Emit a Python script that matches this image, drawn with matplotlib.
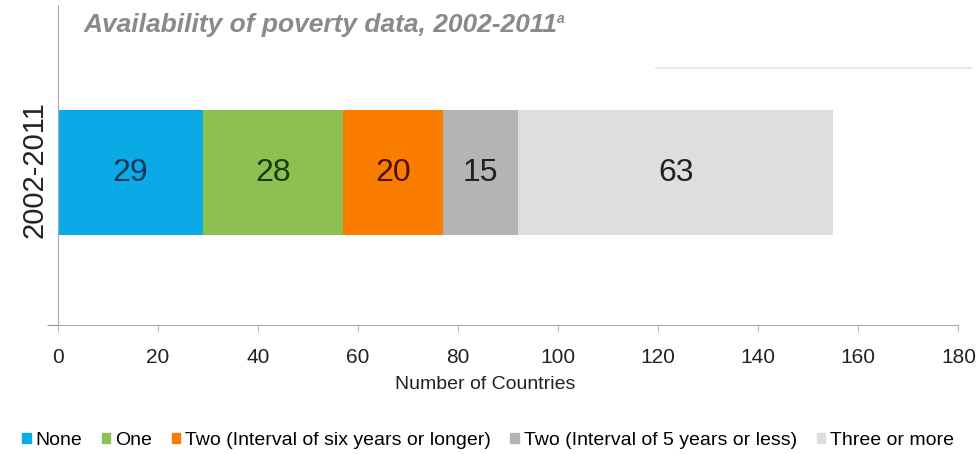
import matplotlib
matplotlib.use("Agg")
import matplotlib.pyplot as plt
from matplotlib import font_manager

# data
period = "2002-2011"
categories = ["None", "One", "Two (Interval of six years or longer)",
              "Two (Interval of 5 years or less)", "Three or more"]
counts = [29, 28, 20, 15, 63]
colors = ["#0aaae6", "#8cc152", "#fa7d00", "#b4b4b4", "#dedede"]
text_colors = ["#14365a", "#1c3a10", "#4a1200", "#222222", "#222222"]
xticks = [0, 20, 40, 60, 80, 100, 120, 140, 160, 180]

names = {f.name for f in font_manager.fontManager.ttflist}
narrow = "Liberation Sans Narrow" if "Liberation Sans Narrow" in names else "Liberation Sans"
plt.rcParams["font.family"] = [narrow, "DejaVu Sans"]

fig = plt.figure(figsize=(9.76, 4.54), dpi=100)
ax = fig.add_axes([0.059, 0.285, 0.923, 0.705])

left = 0
for val, col, tc in zip(counts, colors, text_colors):
    ax.barh([0], [val], left=left, height=0.39, color=col, edgecolor="none")
    ax.text(left + val / 2, 0, str(val), ha="center", va="center",
            fontsize=23, color=tc)
    left += val

ax.set_xlim(0, 180)
ax.set_ylim(-0.475, 0.525)
ax.set_xticks(xticks)
ax.set_xticklabels([str(t) for t in xticks], fontsize=15, color="#222222")
ax.set_yticks([-0.475])
ax.set_yticklabels([""])
ax.tick_params(axis="x", direction="out", length=5, color="#bbbbbb", pad=12)
ax.tick_params(axis="y", direction="out", length=8, color="#999999")
ax.set_xlabel("Number of Countries", fontsize=14, color="#222222", labelpad=6, x=0.475)

for side in ["top", "right"]:
    ax.spines[side].set_visible(False)
ax.spines["left"].set_color("#aaaaaa")
ax.spines["bottom"].set_color("#aaaaaa")

fig.text(0.035, 0.626, period, rotation=90, ha="center", va="center",
         fontsize=21, color="#222222")

fig.text(0.086, 0.945, "Availability of poverty data, 2002-2011",
         fontsize=19, fontstyle="italic", fontweight="bold", color="#8a8a8a",
         va="center")
fig.text(0.571, 0.958, "a", fontsize=10, fontstyle="italic", fontweight="bold",
         color="#8a8a8a", va="center")

# faint decorative rule at top right
fig.add_artist(plt.Line2D([0.672, 0.995], [0.85, 0.85], color="#d8eee0", lw=1.2))

handles = [plt.Rectangle((0, 0), 1, 1, color=c) for c in colors]
fig.legend(handles, categories, loc="center", bbox_to_anchor=(0.5, 0.03),
           ncol=5, frameon=False, fontsize=14, handlelength=0.45, handleheight=0.45,
           handletextpad=0.25, columnspacing=1.0)

fig.savefig("out.png", dpi=100)
